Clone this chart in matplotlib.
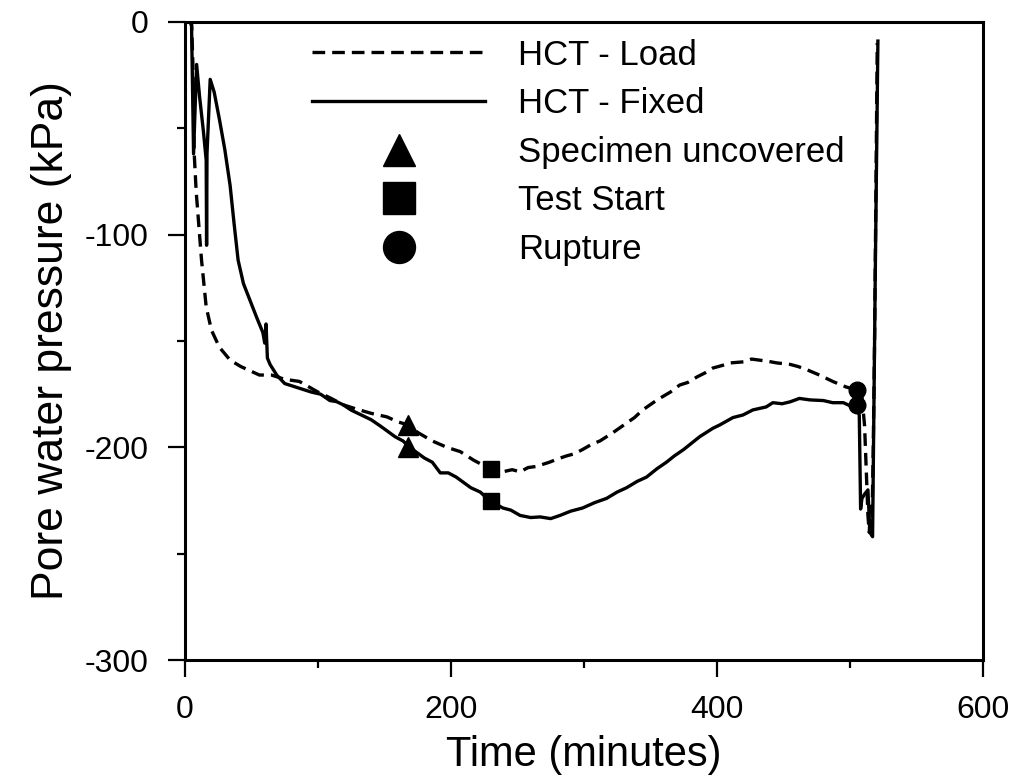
import matplotlib
matplotlib.use("Agg")
import matplotlib.pyplot as plt
from matplotlib.lines import Line2D
from matplotlib.ticker import MultipleLocator

plt.rcParams['font.family'] = ['Liberation Sans', 'DejaVu Sans']
plt.rcParams['axes.unicode_minus'] = False

# HCT - Load (dashed)
t_load = [2, 5, 6, 7, 8.5, 10, 12.5, 16, 20, 26, 34, 42, 49, 56, 65, 75, 86,
          100, 110, 119, 129, 140, 152, 160, 168, 175, 186, 197, 207, 217, 229,
          239, 246, 252, 258, 264, 274, 280, 287, 293, 299, 306, 312, 322, 332,
          338, 344, 355, 365, 372, 378, 385, 391, 397, 404, 410, 420, 426, 432,
          438, 445, 455, 461, 468, 477, 487, 497, 505, 509, 511, 512.5, 513.5,
          514.5, 515.5, 516.5, 517.5, 518.5, 519.5, 520.5]
p_load = [0, 0, -20, -62, -80, -92, -112, -134, -145, -153, -159, -162, -164,
          -166, -166, -168, -169, -174, -177, -180, -182, -184, -185.7, -188,
          -189.5, -193, -197, -200, -202, -206, -210, -211.5, -210.5, -211.5,
          -209.5, -209, -207, -205.5, -204, -203, -201, -198.5, -197, -193,
          -188.6, -186, -182.5, -177.7, -174, -170.7, -169.5, -166.9, -165,
          -162.7, -161.5, -160.3, -159.8, -158.5, -159, -159.5, -160.3, -161,
          -162, -163.6, -166, -169, -171.6, -173, -176, -190, -215, -232, -240,
          -228, -238, -200, -150, -80, -10]

# HCT - Fixed (solid)
t_fixed = [2, 4, 5, 6.5, 8.8, 11, 14, 16, 16.3, 16.6, 19, 22, 26, 30, 34, 37,
           40, 44, 49, 54, 58.6, 60, 61, 62, 64, 69, 75, 85, 95, 102, 109, 114,
           119, 125, 130, 140, 147, 158, 164, 169, 180, 186, 192, 198, 204, 215,
           222, 229, 239, 245, 252, 260, 267, 275, 282, 290, 299, 308, 317, 325,
           332, 340, 347, 355, 362, 368, 375, 381, 387, 397, 402, 412, 419.5,
           427, 437, 442, 449, 455, 462, 470, 480, 487, 495, 502, 505, 507,
           508, 509, 511, 513.5, 515, 517, 519, 521]
p_fixed = [0, 0, -2, -62, -20, -35, -52, -65, -105, -62, -27, -33, -46, -60,
           -77, -95, -112, -123, -131, -139, -146, -151, -142, -158, -161, -166,
           -170, -172, -174, -175, -178, -178.5, -180, -182.5, -184, -187, -190,
           -195, -197, -200, -205, -207, -212, -212, -214, -219, -221, -225,
           -228.5, -229.5, -232, -233, -232.7, -233.5, -232, -230, -228.5, -226,
           -224, -221, -219, -216, -214, -210, -207, -204, -201, -198, -195,
           -191, -189.5, -186, -184.8, -182.4, -181, -179, -179.5, -178.6, -177,
           -177.7, -178, -179, -179, -181, -180, -185, -229, -224, -222, -220,
           -240, -242, -120, -9]

# event markers (load value first, fixed second)
t_uncovered = 168
t_start = 230
t_rupture = 505
p_uncovered = [-189.5, -200]
p_start = [-210, -225]
p_rupture = [-173, -180]

fig = plt.figure(figsize=(10.16, 7.83), dpi=100)
ax = fig.add_axes([0.182, 0.157, 0.7855, 0.815])

dash = (0, (3.8, 2.1))
ax.plot(t_load, p_load, color='black', lw=2.4, linestyle=dash)
ax.plot(t_fixed, p_fixed, color='black', lw=2.4)

ax.plot([t_uncovered] * 2, p_uncovered, '^', color='black', ms=14, ls='none')
ax.plot([t_start] * 2, p_start, 's', color='black', ms=12, ls='none')
ax.plot([t_rupture] * 2, p_rupture, 'o', color='black', ms=12, ls='none')

ax.set_xlim(0, 600)
ax.set_ylim(-300, 0)
ax.xaxis.set_major_locator(MultipleLocator(200))
ax.xaxis.set_minor_locator(MultipleLocator(100))
ax.yaxis.set_major_locator(MultipleLocator(100))
ax.yaxis.set_minor_locator(MultipleLocator(50))

for s in ax.spines.values():
    s.set_linewidth(2.2)
ax.tick_params(which='major', direction='out', length=12, width=1.6,
               labelsize=23, top=False, right=False)
ax.tick_params(which='minor', direction='out', length=6, width=1.6,
               top=False, right=False)
ax.tick_params(axis='x', which='major', pad=13)
ax.tick_params(axis='y', which='major', pad=14)

ax.set_xlabel('Time (minutes)', fontsize=30, labelpad=7)
ax.set_ylabel('Pore water pressure (kPa)', fontsize=32, labelpad=9)

handles = [
    Line2D([], [], color='black', lw=2.4, linestyle=dash),
    Line2D([], [], color='black', lw=2.4),
    Line2D([], [], marker='^', color='black', ms=23, ls='none'),
    Line2D([], [], marker='s', color='black', ms=23, ls='none'),
    Line2D([], [], marker='o', color='black', ms=23, ls='none'),
]
labels = ['HCT - Load', 'HCT - Fixed', 'Specimen uncovered', 'Test Start', 'Rupture']
ax.legend(handles, labels, loc='upper left', bbox_to_anchor=(0.159, 0.974),
          frameon=False, fontsize=25, handlelength=5.0, handletextpad=0.93,
          labelspacing=0.45, borderpad=0, borderaxespad=0)

fig.savefig('out.png', dpi=100)
